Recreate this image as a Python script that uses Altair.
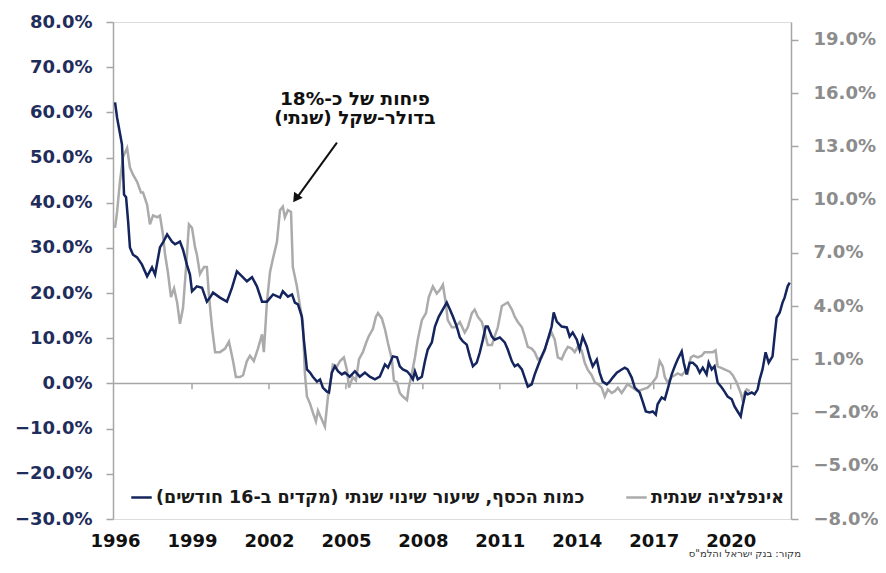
import altair as alt
import pandas as pd

MONEY = "כמות הכסף, שיעור שינוי שנתי (מקדים ב-16 חודשים)"
INFL = "אינפלציה שנתית"
SOURCE = 'מקור: בנק ישראל והלמ"ס'
ANN_LINES = ["פיחות של כ-18%", "בדולר-שקל (שנתי)"]

money_years = [
    1996.00, 1996.08, 1996.27, 1996.31, 1996.35, 1996.43, 1996.51, 1996.58, 1996.70, 1996.86,
    1997.05, 1997.25, 1997.44, 1997.56, 1997.75, 1997.87, 1998.03, 1998.22, 1998.34, 1998.53,
    1998.65, 1998.80, 1998.92, 1999.00, 1999.19, 1999.39, 1999.58, 1999.70, 1999.82, 2000.09,
    2000.36, 2000.56, 2000.75, 2000.95, 2001.14, 2001.34, 2001.53, 2001.73, 2001.92, 2002.16,
    2002.43, 2002.54, 2002.74, 2002.90, 2003.01, 2003.13, 2003.28, 2003.36, 2003.48, 2003.60,
    2003.71, 2003.87, 2003.99, 2004.10, 2004.26, 2004.34, 2004.45, 2004.57, 2004.69, 2004.84,
    2004.96, 2005.15, 2005.35, 2005.54, 2005.74, 2005.93, 2006.13, 2006.32, 2006.52, 2006.64,
    2006.83, 2006.99, 2007.10, 2007.22, 2007.38, 2007.49, 2007.61, 2007.69, 2007.80, 2007.96,
    2008.08, 2008.19, 2008.35, 2008.47, 2008.62, 2008.78, 2008.93, 2009.05, 2009.17, 2009.32,
    2009.44, 2009.56, 2009.71, 2009.83, 2009.95, 2010.10, 2010.22, 2010.34, 2010.45, 2010.53,
    2010.69, 2010.80, 2011.00, 2011.19, 2011.31, 2011.47, 2011.58, 2011.70, 2011.86, 2011.97,
    2012.09, 2012.24, 2012.36, 2012.48, 2012.63, 2012.75, 2012.87, 2013.02, 2013.10, 2013.22,
    2013.41, 2013.61, 2013.72, 2013.84, 2014.00, 2014.11, 2014.23, 2014.39, 2014.50, 2014.62,
    2014.78, 2014.89, 2015.01, 2015.17, 2015.28, 2015.40, 2015.56, 2015.75, 2015.87, 2015.98,
    2016.14, 2016.26, 2016.45, 2016.57, 2016.69, 2016.84, 2016.96, 2017.08, 2017.15, 2017.31,
    2017.43, 2017.54, 2017.70, 2017.82, 2017.93, 2018.09, 2018.17, 2018.28, 2018.40, 2018.52,
    2018.67, 2018.79, 2018.91, 2019.06, 2019.14, 2019.26, 2019.37, 2019.49, 2019.65, 2019.76,
    2019.88, 2020.04, 2020.15, 2020.27, 2020.39, 2020.46, 2020.58, 2020.66, 2020.82, 2020.93,
    2021.05, 2021.13, 2021.24, 2021.36, 2021.48, 2021.63, 2021.71, 2021.79, 2021.91, 2022.02,
    2022.10, 2022.22, 2022.30,
]
money_vals = [
    62.2, 58.8, 52.9, 47.8, 41.8, 41.2, 35.8, 30.1, 28.5, 27.9,
    26.3, 23.7, 25.7, 24.1, 30.1, 31.2, 33.0, 31.4, 30.8, 31.4,
    29.6, 26.3, 24.1, 20.4, 21.5, 21.2, 18.1, 19.0, 20.1, 19.0,
    18.1, 21.2, 24.8, 23.7, 22.6, 23.5, 21.5, 18.1, 18.1, 19.7,
    19.0, 20.4, 19.2, 19.7, 17.9, 17.5, 14.8, 9.7, 3.1, 2.4,
    1.5, 0.4, 0.9, -0.9, -1.8, -2.0, 2.4, 3.8, 2.7, 2.0,
    2.4, 1.5, 2.7, 1.5, 2.4, 1.5, 0.9, 1.5, 4.2, 3.5,
    6.0, 5.8, 3.8, 3.1, 2.7, 2.0, 0.9, 2.7, 0.9, 1.5,
    4.9, 7.5, 9.1, 12.6, 14.8, 16.4, 17.9, 16.4, 14.8, 12.6,
    10.2, 9.3, 8.6, 6.0, 3.8, 4.6, 6.9, 9.7, 12.6, 12.6,
    10.4, 9.7, 10.2, 9.1, 7.5, 4.9, 3.8, 4.2, 3.1, 1.3,
    -0.7, -0.2, 2.0, 3.8, 6.0, 7.5, 9.7, 12.6, 15.7, 13.7,
    12.6, 12.4, 10.4, 11.3, 9.7, 7.5, 10.4, 8.2, 5.8, 3.8,
    5.3, 2.4, 0.4, -0.2, 0.4, 1.3, 2.4, 3.1, 3.5, 3.1,
    1.3, -0.9, -2.0, -4.0, -6.2, -6.4, -6.2, -6.9, -4.6, -3.1,
    -3.5, -1.3, 2.0, 3.8, 5.3, 7.1, 4.6, 2.0, 4.6, 4.6,
    3.8, 2.4, 3.5, 2.0, 4.6, 3.1, 3.8, 0.2, -0.9, -1.8,
    -2.9, -3.5, -5.1, -6.2, -7.3, -5.1, -2.0, -2.4, -2.0, -2.4,
    -1.3, 0.9, 3.1, 6.9, 4.6, 6.0, 10.4, 14.6, 15.7, 17.9,
    19.0, 21.5, 22.3,
]

infl_years = [
    1996.00, 1996.08, 1996.19, 1996.31, 1996.47, 1996.58, 1996.70, 1996.86, 1997.01, 1997.09,
    1997.25, 1997.36, 1997.48, 1997.64, 1997.75, 1997.87, 1997.95, 1998.06, 1998.18, 1998.30,
    1998.42, 1998.53, 1998.65, 1998.77, 1998.88, 1999.00, 1999.12, 1999.19, 1999.31, 1999.47,
    1999.58, 1999.66, 1999.78, 1999.90, 2000.09, 2000.29, 2000.44, 2000.60, 2000.71, 2000.87,
    2000.99, 2001.14, 2001.26, 2001.41, 2001.57, 2001.73, 2001.80, 2001.92, 2002.04, 2002.16,
    2002.31, 2002.43, 2002.54, 2002.62, 2002.74, 2002.86, 2002.93, 2003.09, 2003.21, 2003.32,
    2003.40, 2003.48, 2003.60, 2003.71, 2003.83, 2003.91, 2004.06, 2004.18, 2004.30, 2004.41,
    2004.49, 2004.65, 2004.77, 2004.92, 2005.04, 2005.12, 2005.27, 2005.39, 2005.51, 2005.66,
    2005.78, 2005.89, 2006.05, 2006.17, 2006.25, 2006.40, 2006.52, 2006.64, 2006.79, 2006.87,
    2006.99, 2007.10, 2007.22, 2007.38, 2007.45, 2007.57, 2007.69, 2007.80, 2007.96, 2008.12,
    2008.23, 2008.39, 2008.54, 2008.66, 2008.78, 2008.89, 2008.97, 2009.13, 2009.25, 2009.44,
    2009.63, 2009.75, 2009.91, 2010.02, 2010.14, 2010.30, 2010.41, 2010.53, 2010.69, 2010.80,
    2010.92, 2011.08, 2011.19, 2011.31, 2011.47, 2011.58, 2011.70, 2011.86, 2011.97, 2012.09,
    2012.24, 2012.36, 2012.48, 2012.63, 2012.75, 2012.87, 2013.02, 2013.14, 2013.26, 2013.41,
    2013.53, 2013.65, 2013.80, 2013.92, 2014.04, 2014.19, 2014.31, 2014.43, 2014.58, 2014.70,
    2014.82, 2014.97, 2015.09, 2015.21, 2015.36, 2015.48, 2015.60, 2015.75, 2015.98, 2016.18,
    2016.37, 2016.57, 2016.76, 2016.96, 2017.11, 2017.23, 2017.35, 2017.43, 2017.54, 2017.70,
    2017.82, 2017.93, 2018.09, 2018.21, 2018.32, 2018.44, 2018.56, 2018.71, 2018.87, 2018.98,
    2019.10, 2019.30, 2019.41, 2019.49, 2019.65, 2019.80, 2019.96, 2020.08, 2020.23, 2020.39,
    2020.46, 2020.54, 2020.62, 2020.74,
]
infl_vals = [
    8.4, 9.3, 11.0, 12.4, 12.9, 11.8, 11.4, 11.0, 10.4, 10.4,
    9.7, 8.6, 9.1, 9.0, 9.1, 8.0, 6.9, 5.9, 4.5, 5.0,
    4.2, 3.0, 3.9, 6.2, 8.6, 8.4, 7.3, 6.9, 5.8, 6.2,
    6.2, 4.6, 2.8, 1.4, 1.4, 1.6, 2.0, 0.9, 0.0, 0.0,
    0.1, 0.9, 1.2, 0.9, 1.6, 2.4, 1.4, 4.2, 5.9, 6.7,
    7.6, 9.4, 9.6, 9.0, 9.4, 9.3, 6.2, 5.1, 4.0, 3.1,
    0.2, -1.1, -1.5, -2.0, -2.5, -1.9, -2.4, -2.8, -1.1, -0.2,
    0.7, 0.6, 0.9, 1.1, 0.4, -0.6, 0.0, -0.2, 1.0, 1.4,
    1.9, 2.3, 2.7, 3.4, 3.6, 3.3, 2.7, 1.9, 1.0, -0.2,
    -0.3, -0.9, -1.1, -1.3, -0.6, 0.2, 1.1, 2.1, 3.2, 3.6,
    4.5, 5.1, 4.7, 4.9, 5.2, 4.2, 3.2, 2.8, 2.8, 3.1,
    2.5, 2.8, 3.6, 3.8, 3.4, 3.1, 2.5, 1.8, 1.8, 2.3,
    2.8, 4.0, 4.1, 4.2, 3.8, 3.4, 3.1, 2.8, 2.3, 1.7,
    1.6, 1.4, 1.0, 1.1, 1.5, 2.1, 2.5, 2.1, 1.1, 1.0,
    1.4, 1.7, 1.6, 1.4, 1.7, 1.5, 0.8, 0.4, 0.1, -0.3,
    -0.4, -0.6, -1.1, -0.7, -0.9, -0.8, -0.6, -0.9, -0.4, -0.6,
    -0.8, -0.7, -0.6, -0.3, 0.0, 0.9, 0.6, 0.0, -0.3, 0.0,
    0.1, 0.2, 0.1, 0.3, 0.2, 1.1, 1.2, 1.1, 1.2, 1.4,
    1.4, 1.4, 1.5, 0.6, 0.5, 0.4, 0.3, 0.1, -0.3, -0.9,
    -1.3, -0.9, -0.7, -0.8,
]

left_ticks = [-30, -20, -10, 0, 10, 20, 30, 40, 50, 60, 70, 80]
right_ticks = [-8, -5, -2, 1, 4, 7, 10, 13, 16, 19]
year_ticks = [1996, 1999, 2002, 2005, 2008, 2011, 2014, 2017, 2020]
zero_tick_years = [1999, 2002, 2005, 2008, 2011, 2014, 2017, 2020]

ann_x = [2005.35, 2005.35]
ann_y = [63.0, 58.7]
arrow_x, arrow_y, arrow_x2, arrow_y2 = [2004.65], [53.3], [2003.05], [40.8]
head_x, head_y = [2003.08], [41.2]

LEFT_DOM = [-30, 80]
RIGHT_DOM = [-8, 20]
X_DOM = [1995.92, 2022.35]

NAVY = "#14245c"
GRAY = "#ababab"
FRAME = "#a6a6a6"
HEB_FONT = "DejaVu Sans"
NUM_FONT = "DejaVu Sans"

money_df = pd.DataFrame({"year": money_years, "val": money_vals, "series": MONEY})
infl_df = pd.DataFrame({"year": infl_years, "val": infl_vals, "series": INFL})

x_scale = alt.Scale(domain=X_DOM, nice=False, zero=False)
x_axis = alt.Axis(
    values=year_ticks, format="d", title=None, ticks=False, domain=False,
    grid=False, labels=True, labelFont=NUM_FONT, labelFontSize=18, labelFontWeight="bold",
    labelColor="#111111", labelPadding=13,
)


def xenc(field):
    return alt.X(field, scale=x_scale, axis=x_axis)


color_enc = alt.Color(
    "series:N",
    scale=alt.Scale(domain=[MONEY, INFL], range=[NAVY, GRAY]),
    legend=alt.Legend(
        title=None, orient="none", legendX=17, legendY=464, direction="horizontal",
        symbolType="stroke", symbolSize=420, symbolStrokeWidth=2.5,
        labelFont=HEB_FONT, labelFontSize=17.5, labelFontWeight="bold", labelColor="#1a1a1a",
        labelLimit=700, labelOffset=3, columnPadding=36,
        labelExpr="'\u202b' + datum.label + '\u202c'",
    ),
)

zero_df = pd.DataFrame({"v": [0]})
zero_rule = alt.Chart(zero_df).mark_rule(color=FRAME, strokeWidth=1.5).encode(
    y=alt.Y("v:Q", scale=alt.Scale(domain=LEFT_DOM, nice=False), axis=None)
)

tick_df = pd.DataFrame({"year": zero_tick_years, "y0": 0, "y1": -1.3})
zero_ticks = alt.Chart(tick_df).mark_rule(color=FRAME, strokeWidth=1.5).encode(
    x=xenc("year:Q"),
    y=alt.Y("y0:Q", scale=alt.Scale(domain=LEFT_DOM, nice=False), axis=None),
    y2="y1:Q",
)

infl_line = alt.Chart(infl_df).mark_line(strokeWidth=2.5).encode(
    x=xenc("year:Q"),
    y=alt.Y(
        "val:Q",
        scale=alt.Scale(domain=RIGHT_DOM, nice=False, zero=False),
        axis=alt.Axis(
            orient="right", values=right_ticks, title=None, grid=False,
            labelExpr="format(datum.value, '.1f') + '%'",
            labelFont=NUM_FONT, labelFontSize=18, labelFontWeight="bold", labelColor="#8c8c8c",
            tickColor=FRAME, tickSize=7, tickWidth=1.5, domainColor=FRAME, domainWidth=1.5,
            labelPadding=15,
        ),
    ),
    color=color_enc,
)

money_line = alt.Chart(money_df).mark_line(strokeWidth=2.5).encode(
    x=xenc("year:Q"),
    y=alt.Y(
        "val:Q",
        scale=alt.Scale(domain=LEFT_DOM, nice=False, zero=False),
        axis=alt.Axis(
            orient="left", values=left_ticks, title=None, grid=False,
            labelExpr="format(datum.value, '.1f') + '%'",
            labelFont=NUM_FONT, labelFontSize=18, labelFontWeight="bold", labelColor="#1f2d5c",
            tickColor=FRAME, tickSize=7, tickWidth=1.5, domainColor=FRAME, domainWidth=1.5,
            labelPadding=14,
        ),
    ),
    color=color_enc,
)

ann_df = pd.DataFrame({"x": ann_x, "y": ann_y, "t": ["\u202b" + s + "\u202c" for s in ANN_LINES]})
annotation = alt.Chart(ann_df).mark_text(
    font=HEB_FONT, fontSize=18.5, fontWeight="bold", color="#111111", align="center", baseline="middle"
).encode(
    x=xenc("x:Q"),
    y=alt.Y("y:Q", scale=alt.Scale(domain=LEFT_DOM, nice=False), axis=None),
    text="t:N",
)

arrow_df = pd.DataFrame({"x": arrow_x, "y": arrow_y, "x2": arrow_x2, "y2": arrow_y2})
arrow_line = alt.Chart(arrow_df).mark_rule(color="#111111", strokeWidth=2).encode(
    x=xenc("x:Q"),
    y=alt.Y("y:Q", scale=alt.Scale(domain=LEFT_DOM, nice=False), axis=None),
    x2="x2:Q",
    y2="y2:Q",
)
head_df = pd.DataFrame({"x": head_x, "y": head_y})
arrow_head = alt.Chart(head_df).mark_point(
    shape="triangle", filled=True, size=110, angle=215, color="#111111", opacity=1
).encode(
    x=xenc("x:Q"),
    y=alt.Y("y:Q", scale=alt.Scale(domain=LEFT_DOM, nice=False), axis=None),
)

chart = alt.layer(
    zero_ticks, zero_rule, infl_line, money_line, annotation, arrow_line, arrow_head
).resolve_scale(y="independent").properties(
    width=678,
    height=497,
    autosize=alt.AutoSizeParams(type="none"),
    padding={"left": 105, "top": 14, "right": 87, "bottom": 42},
    title=alt.TitleParams(
        text="\u202b" + SOURCE + "\u202c", orient="bottom", anchor="end", dx=-77, dy=-1, offset=0,
        font=HEB_FONT, fontSize=10, fontWeight="normal", color="#333333",
    ),
).configure_view(stroke=FRAME, strokeWidth=1.5).configure(background="white")

chart.save("out.html", embed_options={"renderer": "svg", "actions": False})
